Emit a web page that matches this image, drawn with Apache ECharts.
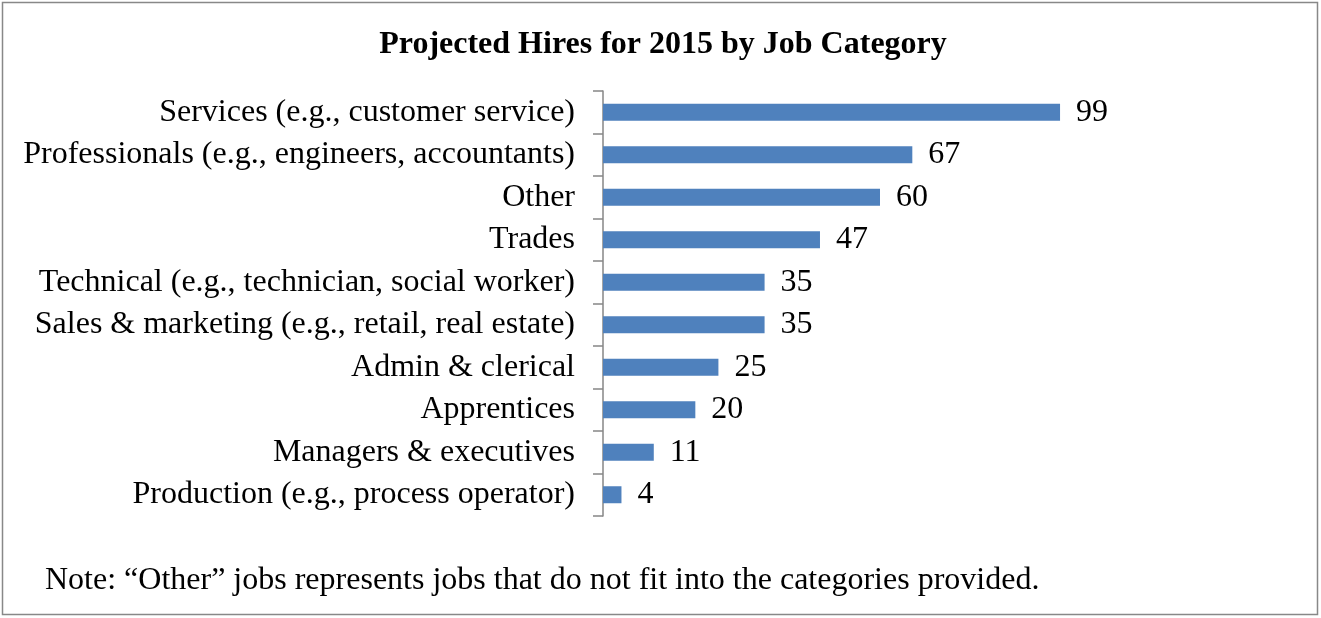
<!DOCTYPE html>
<html>
<head>
<meta charset="utf-8">
<script src="https://cdn.jsdelivr.net/npm/echarts@6/dist/echarts.min.js"></script>
<style>
  html, body { margin: 0; padding: 0; background: #fff; }
  #chart { width: 1321px; height: 618px; }
</style>
</head>
<body>
<div id="chart"></div>
<script>
const titleText = 'Projected Hires for 2015 by Job Category';
const noteText = 'Note: \u201cOther\u201d jobs represents jobs that do not fit into the categories provided.';
const categories = [
  'Services (e.g., customer service)',
  'Professionals (e.g., engineers, accountants)',
  'Other',
  'Trades',
  'Technical (e.g., technician, social worker)',
  'Sales & marketing (e.g., retail, real estate)',
  'Admin & clerical',
  'Apprentices',
  'Managers & executives',
  'Production (e.g., process operator)'
];
const hires = [99, 67, 60, 47, 35, 35, 25, 20, 11, 4];

const serif = '"Liberation Serif", "Times New Roman", serif';
const chart = echarts.init(document.getElementById('chart'));
chart.setOption({
  backgroundColor: '#fff',
  animation: false,
  title: {
    text: titleText,
    left: 658,
    textAlign: 'center',
    top: 24,
    textStyle: { fontFamily: serif, fontSize: 32, fontWeight: 'bold', color: '#000' }
  },
  grid: { left: 603, top: 91, bottom: 102, right: 164, containLabel: false },
  xAxis: {
    type: 'value',
    min: 0,
    max: 120,
    show: false
  },
  yAxis: {
    type: 'category',
    data: categories,
    inverse: true,
    axisLine: { show: true, lineStyle: { color: '#868686', width: 1.5 } },
    axisTick: { show: true, length: 10, lineStyle: { color: '#868686', width: 1.5 } },
    axisLabel: { margin: 28, fontFamily: serif, fontSize: 32, color: '#000' },
    splitLine: { show: false }
  },
  series: [{
    type: 'bar',
    data: hires,
    barWidth: 17,
    itemStyle: { color: '#4F81BD' },
    label: {
      show: true,
      position: 'right',
      distance: 16,
      fontFamily: serif,
      fontSize: 32,
      color: '#000'
    }
  }],
  graphic: [
    {
      type: 'rect',
      shape: { x: 2.5, y: 2.5, width: 1315, height: 612 },
      style: { fill: 'none', stroke: '#888', lineWidth: 1.5 },
      silent: true
    },
    {
      type: 'text',
      left: 45,
      top: 565,
      style: { text: noteText, fontFamily: serif, fontSize: 32, fill: '#000' }
    }
  ]
});
</script>
</body>
</html>
